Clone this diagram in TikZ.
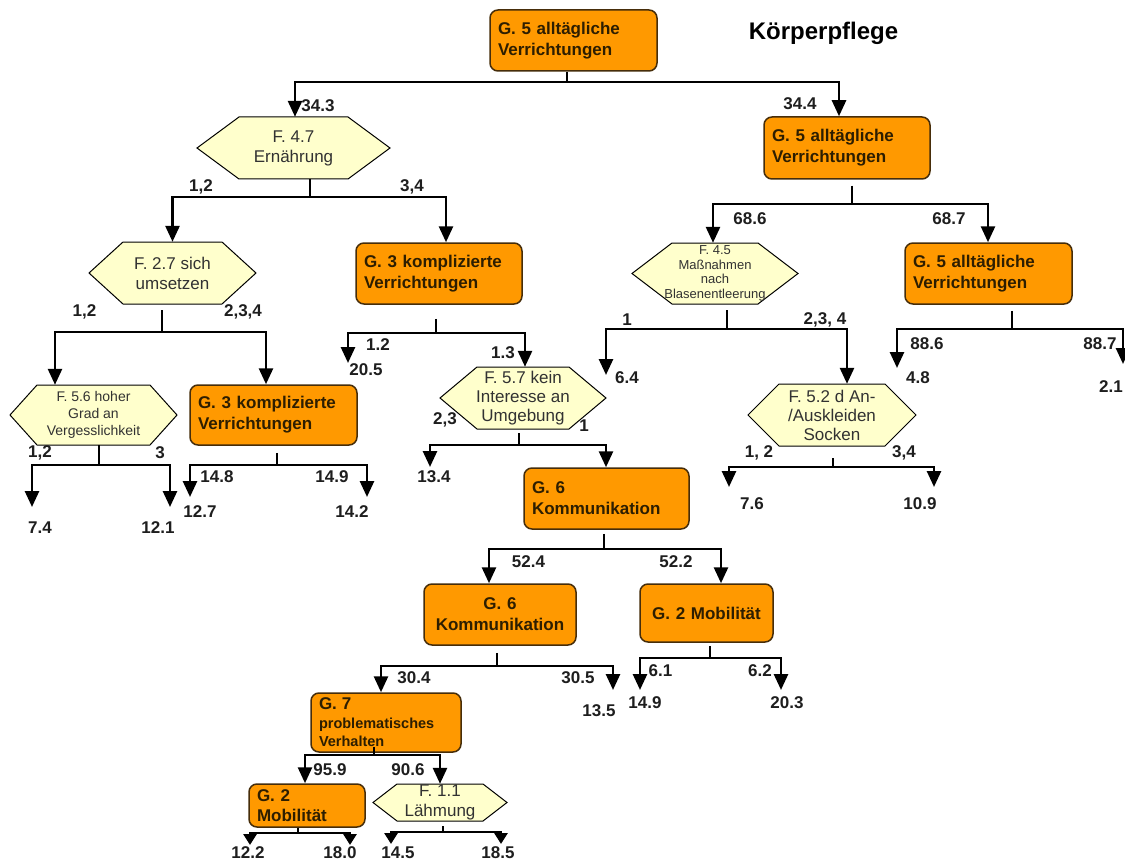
\documentclass[tikz,border=0pt]{standalone}
\usepackage{fontspec}
\setmainfont{Liberation Sans}
\usetikzlibrary{arrows.meta}
\definecolor{orng}{RGB}{255,153,0}
\definecolor{hexy}{RGB}{255,255,204}
\definecolor{bordr}{RGB}{70,45,10}
\definecolor{boxtxt}{RGB}{45,30,0}
\definecolor{lbl}{RGB}{30,30,30}
\definecolor{hextxt}{RGB}{50,50,50}
\tikzset{
 gbox/.style={draw=bordr, line width=1.5pt, fill=orng, rounded corners=8pt, text=boxtxt,
   font=\fontsize{17}{21}\selectfont\bfseries, inner xsep=8pt, inner ysep=0pt, align=left},
 gboxc/.style={gbox, align=center},
 hexshape/.style={draw=black, line width=1pt, fill=hexy},
 hextext/.style={inner sep=0pt, align=center, text=hextxt},
 ln/.style={line width=2.7pt, draw=black},
 arr/.style={ln, -{Triangle[width=14pt,length=16pt]}},
 sarr/.style={ln, -{Triangle[width=13pt,length=11pt]}},
 lab/.style={font=\fontsize{17}{19}\selectfont\bfseries, text=lbl, inner sep=0pt},
}
\newcommand\hexn[8]{%
 \filldraw[hexshape] ({#2-#4},#3) -- ({#2-#4+#6},{#3-#5}) -- ({#2+#4-#6},{#3-#5}) -- ({#2+#4},#3) -- ({#2+#4-#6},{#3+#5}) -- ({#2-#4+#6},{#3+#5}) -- cycle;
 \node[hextext, font=#7, minimum width={2*#4}, minimum height={2*#5}] (#1) at (#2,#3) {#8};
}
\begin{document}
\begin{tikzpicture}[x=1pt,y=-1pt]
\useasboundingbox (0,0) rectangle (1125,864);
\fill[white] (0,0) rectangle (1125,864);

% title
\node[font=\fontsize{24}{26}\selectfont\bfseries, inner sep=0pt] (title) at (823.5,33) {Körperpflege};

% orange boxes
\node[gbox, text width=151pt, minimum height=61pt] (root) at (573.5,40.5) {G. 5 alltägliche\\Verrichtungen};
\node[gbox, text width=150pt, minimum height=62pt] (g5r) at (847,148) {G. 5 alltägliche\\Verrichtungen};
\node[gbox, text width=151pt, minimum height=61pt] (g5rr) at (988.5,273.5) {G. 5 alltägliche\\Verrichtungen};
\node[gbox, text width=150pt, minimum height=61pt] (g3a) at (439,273.5) {G. 3 komplizierte\\Verrichtungen};
\node[gbox, text width=151pt, minimum height=60pt] (g3b) at (273.5,415) {G. 3 komplizierte\\Verrichtungen};
\node[gbox, text width=149pt, minimum height=61pt] (g6a) at (606.5,498.5) {G. 6\\Kommunikation};
\node[gboxc, text width=136pt, minimum height=61pt] (g6b) at (500,614.5) {G. 6\\Kommunikation};
\node[gboxc, text width=117pt, minimum height=58pt] (g2a) at (706.5,613) {G. 2 Mobilität};
\node[gbox, text width=134pt, minimum height=59pt, font=\fontsize{14.5}{18.5}\selectfont\bfseries] (g7) at (386,722.5) {{\fontsize{17}{18.5}\selectfont G. 7}\\problematisches\\Verhalten};
\node[gbox, text width=100pt, minimum height=43pt, font=\fontsize{17}{20}\selectfont\bfseries] (g2b) at (307,805.5) {G. 2\\Mobilität};

% hexagons
\hexn{f47}{293.5}{148}{96.5}{31}{42}{\fontsize{17}{20}\selectfont}{F. 4.7\\Ernährung}
\hexn{f27}{172.5}{273}{83.5}{31}{34}{\fontsize{17}{20}\selectfont}{F. 2.7 sich\\umsetzen}
\hexn{f56}{93.5}{415}{83.5}{30}{27}{\fontsize{14}{17}\selectfont}{F. 5.6 hoher\\Grad an\\Vergesslichkeit}
\hexn{f57}{523}{398}{83}{31}{37}{\fontsize{17}{19}\selectfont}{F. 5.7 kein\\Interesse an\\Umgebung}
\hexn{f45}{715}{273.5}{83}{30.5}{40}{\fontsize{13}{14.5}\selectfont}{F. 4.5\\Maßnahmen\\nach\\Blasenentleerung}
\hexn{f52}{832}{415}{84}{31}{31}{\fontsize{17}{19}\selectfont}{F. 5.2 d An-\\/Auskleiden\\Socken}
\hexn{f11}{440}{802.5}{67}{18.5}{24}{\fontsize{17}{20}\selectfont}{F. 1.1\\Lähmung}

% root split
\coordinate (j0) at (567,82); \coordinate (c0l) at (295,82); \coordinate (c0r) at (839,82);
\draw[ln] (j0 |- root.south) -- (j0);
\draw[arr] (j0) -| (c0l |- f47.north);
\draw[arr] (j0) -| (c0r |- g5r.north);

% F 4.7 split
\coordinate (j1) at (310,197); \coordinate (c1l) at (172.5,197); \coordinate (c1r) at (446,197);
\draw[ln] (j1 |- f47.south) -- (j1);
\draw[arr] (j1) -| (c1l |- f27.north);
\draw[arr] (j1) -| (c1r |- g3a.north);

% F 2.7 split
\coordinate (j2) at (162,332); \coordinate (c2l) at (55,332); \coordinate (c2r) at (266,332);
\draw[ln] (j2 |- f27.south) ++(0,6) -- (j2);
\draw[arr] (j2) -| (c2l |- f56.north);
\draw[arr] (j2) -| (c2r |- g3b.north);

% G 3 (a) split
\coordinate (j3) at (436,333); \coordinate (c3r) at (525,333); \coordinate (e3l) at (348,363);
\draw[ln] (j3 |- g3a.south) ++(0,14) -- (j3);
\draw[arr] (j3) -| (e3l);
\draw[arr] (j3) -| (c3r |- f57.north);

% F 5.6 split
\coordinate (j4) at (99,465); \coordinate (e4l) at (32,507); \coordinate (e4r) at (170,507);
\draw[ln] (j4 |- f56.south) -- (j4);
\draw[arr] (j4) -| (e4l);
\draw[arr] (j4) -| (e4r);

% G 3 (b) split
\coordinate (j5) at (277,465); \coordinate (e5l) at (190,497); \coordinate (e5r) at (367,497);
\draw[ln] (j5 |- g3b.south) ++(0,7) -- (j5);
\draw[arr] (j5) -| (e5l);
\draw[arr] (j5) -| (e5r);

% G 5 right split
\coordinate (j6) at (852,204); \coordinate (c6l) at (713,204); \coordinate (c6r) at (988,204);
\draw[ln] (j6 |- g5r.south) ++(0,6) -- (j6);
\draw[arr] (j6) -| (c6l |- f45.north);
\draw[arr] (j6) -| (c6r |- g5rr.north);

% F 4.5 split
\coordinate (j7) at (727,329); \coordinate (e7l) at (606,375); \coordinate (c7r) at (847,329);
\draw[ln] (j7 |- f45.south) ++(0,6) -- (j7);
\draw[arr] (j7) -| (e7l);
\draw[arr] (j7) -| (c7r |- f52.north);

% G 5 far right split
\coordinate (j8) at (1012,329); \coordinate (e8l) at (897,368); \coordinate (e8r) at (1123,364);
\draw[ln] (j8 |- g5rr.south) ++(0,6) -- (j8);
\draw[arr] (j8) -| (e8l);
\draw[arr] (j8) -| (e8r);

% F 5.7 split
\coordinate (j9) at (519,445); \coordinate (e9l) at (430,467); \coordinate (c9r) at (606,445);
\draw[ln] (j9 |- f57.south) ++(0,4) -- (j9);
\draw[arr] (j9) -| (e9l);
\draw[arr] (j9) -| (c9r |- g6a.north);

% F 5.2 split
\coordinate (j10) at (833,467); \coordinate (e10l) at (729,487); \coordinate (e10r) at (934,487);
\draw[ln] (j10 |- f52.south) ++(0,12) -- (j10);
\draw[arr] (j10) -| (e10l);
\draw[arr] (j10) -| (e10r);

% G 6 (a) split
\coordinate (j11) at (604,549); \coordinate (c11l) at (489,549); \coordinate (c11r) at (721,549);
\draw[ln] (j11 |- g6a.south) ++(0,4) -- (j11);
\draw[arr] (j11) -| (c11l |- g6b.north);
\draw[arr] (j11) -| (c11r |- g2a.north);

% G 6 (b) split
\coordinate (j12) at (497,666); \coordinate (c12l) at (381,666); \coordinate (e12r) at (613,690);
\draw[ln] (j12 |- g6b.south) ++(0,7) -- (j12);
\draw[arr] (j12) -| (c12l |- g7.north);
\draw[arr] (j12) -| (e12r);

% G 2 (a) split
\coordinate (j13) at (710,658); \coordinate (e13l) at (640,690); \coordinate (e13r) at (781,690);
\draw[ln] (j13 |- g2a.south) ++(0,3) -- (j13);
\draw[arr] (j13) -| (e13l);
\draw[arr] (j13) -| (e13r);

% G 7 split
\coordinate (j14) at (374,755); \coordinate (c14l) at (305,755); \coordinate (c14r) at (440,755);
\draw[ln] (j14 |- g7.south) ++(0,-6) -- (j14);
\draw[arr] (j14) -| (c14l |- g2b.north);
\draw[arr] (j14) -| (c14r |- f11.north);

% G 2 (b) split
\coordinate (j15) at (298,833); \coordinate (e15l) at (250,845); \coordinate (e15r) at (350,845);
\draw[ln] (j15 |- g2b.south) -- (j15);
\draw[sarr] (j15) -| (e15l);
\draw[sarr] (j15) -| (e15r);

% F 1.1 split
\coordinate (j16) at (443,832); \coordinate (e16l) at (391,844); \coordinate (e16r) at (501,844);
\draw[ln] (j16 |- f11.south) ++(0,5) -- (j16);
\draw[sarr] (j16) -| (e16l);
\draw[sarr] (j16) -| (e16r);

% labels
\node[lab] (t1) at (318,106) {34.3};
\node[lab] (t2) at (800,104) {34.4};
\node[lab] (t3) at (201,187) {1,2};
\node[lab] (t4) at (412,187) {3,4};
\node[lab] (t5) at (84.5,312) {1,2};
\node[lab] (t6) at (243,312) {2,3,4};
\node[lab] (t7) at (378,345) {1.2};
\node[lab] (t8) at (366,370) {20.5};
\node[lab] (t9) at (503,353) {1.3};
\node[lab] (t10) at (40,453) {1,2};
\node[lab] (t11) at (160,453) {3};
\node[lab] (t12) at (40,528) {7.4};
\node[lab] (t13) at (158,528) {12.1};
\node[lab] (t14) at (217,477) {14.8};
\node[lab] (t15) at (332,477) {14.9};
\node[lab] (t16) at (200,512) {12.7};
\node[lab] (t17) at (352,512) {14.2};
\node[lab] (t18) at (750,219) {68.6};
\node[lab] (t19) at (949,219) {68.7};
\node[lab] (t20) at (627,320) {1};
\node[lab] (t21) at (825,320) {2,3, 4};
\node[lab] (t22) at (627,378) {6.4};
\node[lab] (t23) at (927,344) {88.6};
\node[lab] (t24) at (1100,344) {88.7};
\node[lab] (t25) at (918,378) {4.8};
\node[lab] (t26) at (1111,387) {2.1};
\node[lab] (t27) at (445,420) {2,3};
\node[lab] (t28) at (584,426) {1};
\node[lab] (t29) at (434,477) {13.4};
\node[lab] (t30) at (759,453) {1, 2};
\node[lab] (t31) at (904,453) {3,4};
\node[lab] (t32) at (752,504) {7.6};
\node[lab] (t33) at (920,504) {10.9};
\node[lab] (t34) at (528.5,562) {52.4};
\node[lab] (t35) at (676,562) {52.2};
\node[lab] (t36) at (414,678) {30.4};
\node[lab] (t37) at (578,678) {30.5};
\node[lab] (t38) at (599,711) {13.5};
\node[lab] (t39) at (660.5,671) {6.1};
\node[lab] (t40) at (760,671) {6.2};
\node[lab] (t41) at (645,703) {14.9};
\node[lab] (t42) at (787,703) {20.3};
\node[lab] (t43) at (330,770) {95.9};
\node[lab] (t44) at (408,770) {90.6};
\node[lab] (t45) at (248,853) {12.2};
\node[lab] (t46) at (340,853) {18.0};
\node[lab] (t47) at (398,853) {14.5};
\node[lab] (t48) at (498,853) {18.5};
\end{tikzpicture}
\end{document}
